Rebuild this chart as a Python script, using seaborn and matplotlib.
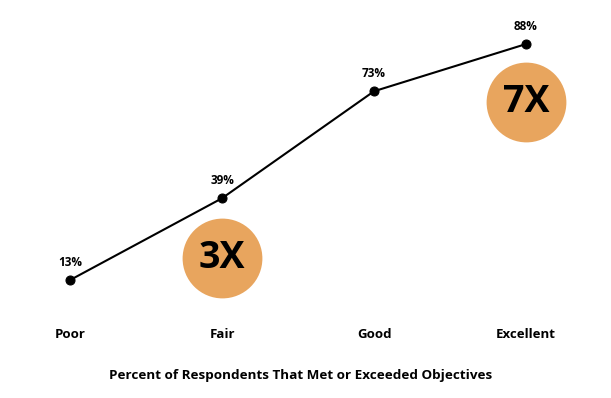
import matplotlib
matplotlib.use("Agg")
import matplotlib.pyplot as plt
import seaborn as sns
import pandas as pd

# data
ratings = ["Poor", "Fair", "Good", "Excellent"]
met_pct = [13, 39, 73, 88]
badges = ["3X", "7X"]
badge_x = [1, 3]
badge_y = [20, 69.5]

sns.set_theme(style="white")
plt.rcParams["font.family"] = ["Open Sans", "DejaVu Sans"]
plt.rcParams["text.color"] = "black"
plt.rcParams["xtick.color"] = "black"

df = pd.DataFrame({"pos": range(len(ratings)), "rating": ratings, "pct": met_pct})

fig = plt.figure(figsize=(6.11, 3.98), dpi=100)
ax = fig.add_axes([0, 77 / 398, 1, 321 / 398])

# orange badge circles behind the line
ax.scatter(badge_x, badge_y, s=3300, color="#E8A55E", zorder=1, linewidths=0)
for bx, by, txt in zip(badge_x, badge_y, badges):
    ax.text(bx, by, txt, ha="center", va="center", fontsize=27,
            fontweight="bold", color="black", zorder=3)

sns.lineplot(data=df, x="pos", y="pct", ax=ax, color="black", linewidth=1.5,
             marker="o", markersize=6.5, markeredgecolor="black", zorder=2)

for x, y in zip(df["pos"], df["pct"]):
    ax.annotate(f"{y}%", (x, y), xytext=(0, 8), textcoords="offset points",
                ha="center", va="bottom", fontsize=8.5, fontweight="bold",
                color="black")

ax.set_xlim(-70 / 152, 3 + 85 / 152)
ax.set_ylim(0, 102)
ax.set_xticks(df["pos"])
ax.set_xticklabels(ratings, fontsize=9.5, fontweight="bold", color="black")
ax.tick_params(axis="x", length=0, pad=5)
ax.set_yticks([])
ax.set_xlabel("")
ax.set_ylabel("")
for s in ax.spines.values():
    s.set_visible(False)

fig.text(0.4925, 1 - 375 / 398, "Percent of Respondents That Met or Exceeded Objectives",
         ha="center", va="center", fontsize=9.7, fontweight="bold", color="black")

fig.savefig("out.png", dpi=100)
